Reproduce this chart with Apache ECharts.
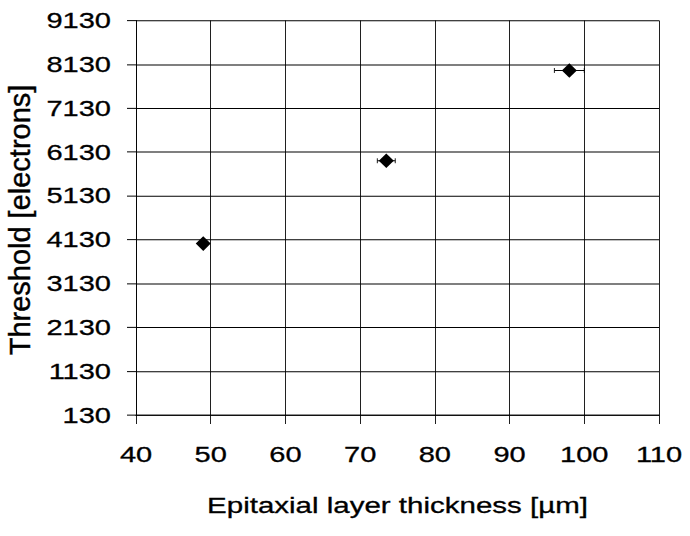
<!DOCTYPE html>
<html>
<head>
<meta charset="utf-8">
<script src="https://cdn.jsdelivr.net/npm/echarts@6/dist/echarts.min.js"></script>
<style>
html,body{margin:0;padding:0;background:#fff;overflow:hidden;width:690px;height:536px}
#chart{width:690px;height:715px;transform:scaleY(0.75);transform-origin:0 0;}
</style>
</head>
<body>
<div id="chart"></div>
<script>
// ---- data ----
const thickness = [49.0, 73.5, 98.0];          // µm
const threshold = [4040, 5930, 7990];          // electrons
const thicknessErr = [0.5, 1.2, 2.0];          // µm (horizontal error)
const xRange = [40, 110];
const xStep = 10;
const yRange = [130, 9130];
const yStep = 1000;
const xTitle = 'Epitaxial layer thickness [µm]';
const yTitle = 'Threshold [electrons]';

// ---- rendering ----
const SY = 0.75; // vertical squash of the whole drawing (text in the original is wide)
const FONT = '"Liberation Sans", Arial, Helvetica, sans-serif';
const chart = echarts.init(document.getElementById('chart'), null, {renderer: 'svg', width: 690, height: 715});
const plain = v => String(v);
const heavy = {textBorderColor: '#000', textBorderWidth: 0.4};

const option = {
  animation: false,
  backgroundColor: '#fff',
  grid: {left: 136, right: 31, top: 20.5 / SY, bottom: 715 - 415 / SY, containLabel: false},
  xAxis: {
    type: 'value', min: xRange[0], max: xRange[1], interval: xStep,
    axisLine: {show: true, lineStyle: {color: '#000', width: 1 / SY}},
    axisTick: {show: true, inside: false, length: 9 / SY, lineStyle: {color: '#000', width: 1}},
    splitLine: {show: true, lineStyle: {color: '#000', width: 1}},
    axisLabel: Object.assign({fontSize: 29, fontFamily: FONT, color: '#000', margin: 38, formatter: plain}, heavy),
    name: xTitle, nameLocation: 'middle', nameGap: 105,
    nameTextStyle: Object.assign({fontSize: 29.5, fontFamily: FONT, color: '#000'}, heavy)
  },
  yAxis: {
    type: 'value', min: yRange[0], max: yRange[1], interval: yStep,
    axisLine: {show: true, lineStyle: {color: '#000', width: 1}},
    axisTick: {show: true, inside: false, length: 9, lineStyle: {color: '#000', width: 1 / SY}},
    splitLine: {show: true, lineStyle: {color: '#000', width: 1 / SY}},
    axisLabel: Object.assign({fontSize: 29, fontFamily: FONT, color: '#000', margin: 25, formatter: plain}, heavy)
  },
  graphic: [{
    type: 'text', x: 20, y: 220 / SY, rotation: Math.PI / 2, scaleX: 1 / SY,
    style: {text: yTitle, fontSize: 29, fontFamily: FONT, fill: '#000', align: 'center', verticalAlign: 'middle',
            stroke: '#000', lineWidth: 0.4}
  }],
  series: [
    {
      type: 'custom', z: 2,
      data: thickness.map((x, i) => [x, threshold[i], thicknessErr[i]]),
      encode: {x: 0, y: 1},
      renderItem: function (params, api) {
        const x = api.value(0), y = api.value(1), e = api.value(2);
        const p1 = api.coord([x - e, y]);
        const p2 = api.coord([x + e, y]);
        const h = 3.3;
        return {
          type: 'group',
          children: [
            {type: 'line', shape: {x1: p1[0], y1: p1[1], x2: p2[0], y2: p2[1]}, style: {stroke: '#000', lineWidth: 1 / SY}},
            {type: 'line', shape: {x1: p1[0], y1: p1[1] - h, x2: p1[0], y2: p1[1] + h}, style: {stroke: '#000', lineWidth: 1}},
            {type: 'line', shape: {x1: p2[0], y1: p2[1] - h, x2: p2[0], y2: p2[1] + h}, style: {stroke: '#000', lineWidth: 1}}
          ]
        };
      }
    },
    {
      type: 'scatter', z: 3,
      data: thickness.map((x, i) => [x, threshold[i]]),
      symbol: 'diamond', symbolSize: [15, 19.5],
      itemStyle: {color: '#000', opacity: 1}
    }
  ]
};
chart.setOption(option);
</script>
</body>
</html>
